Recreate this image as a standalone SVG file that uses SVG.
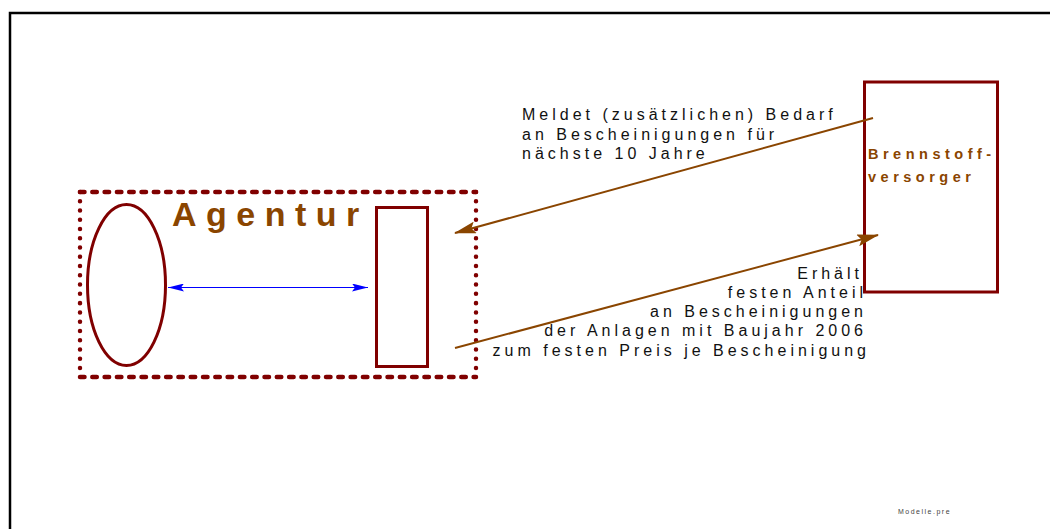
<svg xmlns="http://www.w3.org/2000/svg" width="1050" height="529" viewBox="0 0 1050 529">
  <style>
    .frame { fill: none; stroke: #000; stroke-width: 2.5; }
    .shape { fill: none; stroke: #800000; stroke-width: 3; }
    .dash-h { fill: none; stroke: #800000; stroke-width: 4.5; stroke-linecap: round; stroke-dasharray: 4.5 7.8; }
    .dash-v { fill: none; stroke: #800000; stroke-width: 4.5; stroke-linecap: round; stroke-dasharray: 0.01 9.25; }
    .flow { fill: none; stroke: #8a4500; stroke-width: 2; }
    .link { fill: none; stroke: #0000ff; stroke-width: 1.2; }
    .title { font-family: "Liberation Sans", Arial, sans-serif; font-weight: bold; fill: #8a4500; }
    .note { font-family: "Liberation Sans", Arial, sans-serif; font-size: 16px; fill: #111; letter-spacing: 4px; }
    .small { font-family: "Liberation Sans", Arial, sans-serif; font-size: 7px; fill: #444; letter-spacing: 1.5px; }
  </style>
  <defs>
    <marker id="headBrown" viewBox="0 0 22 12" refX="21" refY="6" markerWidth="22" markerHeight="12" markerUnits="userSpaceOnUse" orient="auto-start-reverse">
      <path d="M0,0 L22,6 L0,12 L4,6 Z" fill="#8a4500"/>
    </marker>
    <marker id="headBlue" viewBox="0 0 16 8" refX="16" refY="4" markerWidth="16" markerHeight="8" markerUnits="userSpaceOnUse" orient="auto-start-reverse">
      <path d="M0,0 L16,4 L0,8 L3,4 Z" fill="#0000ff"/>
    </marker>
  </defs>

  <rect width="1050" height="529" fill="#fff"/>
  <!-- page frame: top and left edges -->
  <path class="frame" d="M10,529 V13 H1050"/>

  <g id="agentur">
    <line class="dash-h" x1="80" y1="192" x2="476" y2="192"/>
    <line class="dash-h" x1="80" y1="377" x2="476" y2="377"/>
    <line class="dash-v" x1="80" y1="192" x2="80" y2="377"/>
    <line class="dash-v" x1="476" y1="192" x2="476" y2="377"/>
    <text class="title" x="172" y="226" font-size="34" letter-spacing="9.5">Agentur</text>
  </g>

  <g id="ellipse-node">
    <ellipse class="shape" cx="126.5" cy="285" rx="39" ry="80.5"/>
  </g>

  <g id="rect-node">
    <rect class="shape" x="376.5" y="207.5" width="51" height="159"/>
  </g>

  <g id="brennstoffversorger">
    <rect class="shape" x="864.5" y="82" width="133" height="210"/>
    <text class="title" font-size="14.5" letter-spacing="4.5" x="868" y="159">Brennstoff-</text>
    <text class="title" font-size="14.5" letter-spacing="4.5" x="868" y="182">versorger</text>
  </g>

  <g id="connectors">
    <line class="link" x1="168" y1="287.5" x2="368" y2="287.5" marker-start="url(#headBlue)" marker-end="url(#headBlue)"/>
    <line class="flow" x1="873" y1="118" x2="455" y2="233" marker-end="url(#headBrown)"/>
    <line class="flow" x1="455" y1="348" x2="878" y2="235" marker-end="url(#headBrown)"/>
  </g>

  <g id="labels">
    <text class="note" x="522" y="120">Meldet (zusätzlichen) Bedarf</text>
    <text class="note" x="522" y="140">an Bescheinigungen für</text>
    <text class="note" x="522" y="159">nächste 10 Jahre</text>
    <!-- right-aligned block; x includes the trailing letter-spacing -->
    <g text-anchor="end">
      <text class="note" x="863" y="279">Erhält</text>
      <text class="note" x="867" y="298">festen Anteil</text>
      <text class="note" x="867" y="317">an Bescheinigungen</text>
      <text class="note" x="867" y="336">der Anlagen mit Baujahr 2006</text>
      <text class="note" x="870" y="356">zum festen Preis je Bescheinigung</text>
    </g>
    <text class="small" x="898" y="514">Modelle.pre</text>
  </g>
</svg>
